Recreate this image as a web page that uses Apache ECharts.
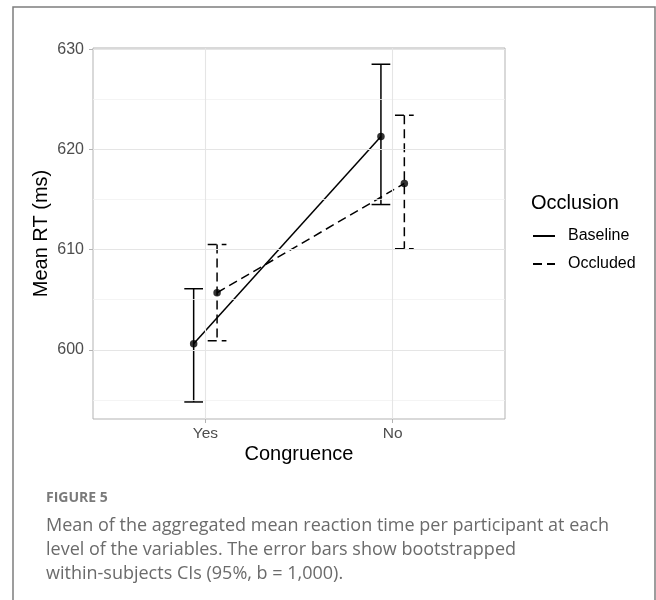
<!DOCTYPE html>
<html>
<head>
<meta charset="UTF-8">
<title>Mean RT by congruence and occlusion</title>
<script src="https://cdn.jsdelivr.net/npm/echarts@6/dist/echarts.min.js"></script>
<style>
  html, body { margin: 0; padding: 0; background: #fff; }
  #chart { width: 656px; height: 600px; }
</style>
</head>
<body>
<div id="chart"></div>
<script>
// data
var categories = ['Yes', 'No'];
var seriesNames = ['Baseline', 'Occluded'];
var baselineMean = [600.6, 621.3];
var baselineLow = [594.8, 614.5];
var baselineHigh = [606.1, 628.5];
var occludedMean = [605.7, 616.6];
var occludedLow = [600.9, 610.1];
var occludedHigh = [610.5, 623.4];
var yTicks = [600, 610, 620, 630];
var yMinor = [595, 605, 615, 625];

var dodge = 0.0625;   // position_dodge half width
var capHalf = 0.05;   // errorbar width / 2
var dash = [9, 5];

var chart = echarts.init(document.getElementById('chart'));

function pts(means, shift) {
  return means.map(function (m, i) { return [i + 1 + shift, m]; });
}
function bars(low, high, shift) {
  return low.map(function (l, i) { return [i + 1 + shift, l, high[i]]; });
}

function errorBar(lineType) {
  return function (params, api) {
    var x = api.value(0);
    var lo = api.coord([x, api.value(1)]);
    var hi = api.coord([x, api.value(2)]);
    var l = api.coord([x - capHalf, api.value(1)])[0];
    var r = api.coord([x + capHalf, api.value(1)])[0];
    var style = { stroke: '#000', lineWidth: 1.5, lineDash: lineType === 'dashed' ? dash : null };
    return {
      type: 'group',
      children: [
        { type: 'line', shape: { x1: l, y1: hi[1], x2: r, y2: hi[1] }, style: style },
        { type: 'line', shape: { x1: hi[0], y1: hi[1], x2: lo[0], y2: lo[1] }, style: style },
        { type: 'line', shape: { x1: l, y1: lo[1], x2: r, y2: lo[1] }, style: style }
      ]
    };
  };
}

var gridLines = [];
yTicks.forEach(function (v) { gridLines.push({ yAxis: v, lineStyle: { color: '#e5e5e5', width: 1.1, type: 'solid' } }); });
yMinor.forEach(function (v) { gridLines.push({ yAxis: v, lineStyle: { color: '#f1f1f1', width: 0.8, type: 'solid' } }); });
categories.forEach(function (c, i) { gridLines.push({ xAxis: i + 1, lineStyle: { color: '#e5e5e5', width: 1.1, type: 'solid' } }); });

var font = 'Liberation Sans';

var option = {
  animation: false,
  textStyle: { fontFamily: font },
  title: [
    { text: 'Occlusion', left: 531, top: 193, padding: 0,
      textStyle: { fontSize: 20, fontWeight: 'normal', color: '#000', fontFamily: font } },
    { text: 'FIGURE 5', left: 46, top: 491, padding: 0,
      textStyle: { fontSize: 14, fontWeight: 'bold', color: '#7a7a7a', fontFamily: 'Open Sans' } },
    { text: 'Mean of the aggregated mean reaction time per participant at each\nlevel of the variables. The error bars show bootstrapped\nwithin-subjects CIs (95%, b = 1,000).',
      left: 46, top: 514, padding: 0,
      textStyle: { fontSize: 18, fontWeight: 'normal', color: '#6b6b6b', lineHeight: 24, fontFamily: 'Open Sans' } }
  ],
  graphic: [
    { type: 'rect', shape: { x: 13, y: 7, width: 642, height: 620 },
      style: { fill: 'none', stroke: '#7d7d7d', lineWidth: 1.5 }, silent: true }
  ],
  legend: {
    data: seriesNames,
    orient: 'vertical',
    left: 532, top: 228, padding: 0,
    itemWidth: 22, itemHeight: 14, itemGap: 12,
    itemStyle: { opacity: 0 },
    textStyle: { fontSize: 16, color: '#000', fontFamily: font, padding: [0, 0, 0, 8] }
  },
  grid: {
    left: 93, top: 48, right: 151, bottom: 181,
    show: true, borderColor: '#b3b3b3', borderWidth: 1, backgroundColor: '#fff'
  },
  xAxis: {
    type: 'value', min: 0.4, max: 2.6,
    name: 'Congruence', nameLocation: 'middle', nameGap: 25,
    nameMoveOverlap: false,
    nameTextStyle: { fontSize: 20, color: '#000', fontFamily: font },
    axisLine: { show: false },
    splitLine: { show: false },
    axisTick: { show: true, length: 4, customValues: [1, 2], lineStyle: { color: '#b3b3b3' } },
    axisLabel: {
      customValues: [1, 2], fontSize: 15.5, color: '#4d4d4d', margin: 7,
      formatter: function (v) { return categories[Math.round(v) - 1]; }
    }
  },
  yAxis: {
    type: 'value', min: 593.1, max: 630.12,
    name: 'Mean RT (ms)', nameLocation: 'middle', nameGap: 42,
    nameMoveOverlap: false,
    nameTextStyle: { fontSize: 20, color: '#000', fontFamily: font },
    axisLine: { show: false },
    splitLine: { show: false },
    axisTick: { show: true, length: 4, customValues: yTicks, lineStyle: { color: '#b3b3b3' } },
    axisLabel: { customValues: yTicks, fontSize: 16, color: '#4d4d4d', margin: 9 }
  },
  series: [
    { name: 'grid', type: 'line', data: [], silent: true, z: 0,
      markLine: { symbol: 'none', silent: true, label: { show: false }, data: gridLines, animation: false } },
    { name: 'Baseline', type: 'line', data: pts(baselineMean, -dodge), symbol: 'none',
      lineStyle: { color: '#000', width: 1.5, type: 'solid' }, itemStyle: { color: '#000' }, z: 3 },
    { name: 'Occluded', type: 'line', data: pts(occludedMean, dodge), symbol: 'none',
      lineStyle: { color: '#000', width: 1.5, type: dash }, itemStyle: { color: '#000' }, z: 3 },
    { name: 'Baseline bars', type: 'custom', data: bars(baselineLow, baselineHigh, -dodge),
      renderItem: errorBar('solid'), z: 4 },
    { name: 'Occluded bars', type: 'custom', data: bars(occludedLow, occludedHigh, dodge),
      renderItem: errorBar('dashed'), z: 4 },
    { name: 'Baseline points', type: 'scatter', data: pts(baselineMean, -dodge), symbolSize: 7.5,
      itemStyle: { color: '#000' }, z: 5 },
    { name: 'Occluded points', type: 'scatter', data: pts(occludedMean, dodge), symbolSize: 7.5,
      itemStyle: { color: '#000' }, z: 5 }
  ]
};

chart.setOption(option);
</script>
</body>
</html>
